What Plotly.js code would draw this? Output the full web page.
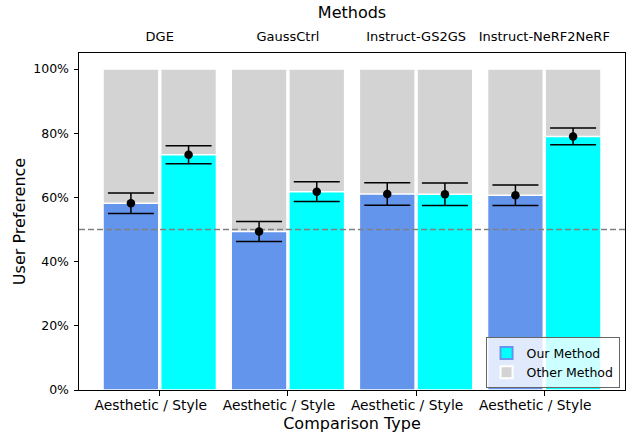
<!DOCTYPE html>
<html>
<head>
<meta charset="utf-8">
<script src="https://cdn.plot.ly/plotly-3.0.1.min.js"></script>
<style>html,body{margin:0;padding:0;background:#fff;}#chart{width:626px;height:434px;}</style>
</head>
<body>
<div id="chart"></div>
<script>
// ---- data ----
const methods = ['DGE', 'GaussCtrl', 'Instruct-GS2GS', 'Instruct-NeRF2NeRF'];
const comparisonLabels = ['Aesthetic / Style', 'Aesthetic / Style', 'Aesthetic / Style', 'Aesthetic / Style'];
const ourAesthetic = [0.582, 0.494, 0.611, 0.607];
const ourStyle = [0.733, 0.618, 0.610, 0.790];
const errAesthetic = [0.032, 0.031, 0.035, 0.032];
const errStyle = [0.028, 0.031, 0.035, 0.026];
const totalShare = [1, 1, 1, 1];
const chanceLevel = 0.5;

// ---- layout constants ----
const OFF = 0.225, BW = 0.435;
const XR = [-0.63, 3.63];
const idx = methods.map((_, i) => i);
const xA = idx.map(i => i - OFF);
const xS = idx.map(i => i + OFF);
const FONT = 'DejaVu Sans, sans-serif';

const edge = {color: '#ffffff', width: 1.5};

const traces = [
  {type: 'bar', x: xA.concat(xS), y: totalShare.concat(totalShare), width: BW,
   marker: {color: '#d3d3d3', line: edge}, name: 'Other Method', legendrank: 2,
   hoverinfo: 'skip'},
  {type: 'bar', x: xA, y: ourAesthetic, width: BW,
   marker: {color: '#6495ed', line: edge}, showlegend: false, hoverinfo: 'skip'},
  {type: 'bar', x: xS, y: ourStyle, width: BW,
   marker: {color: '#00ffff', line: edge}, showlegend: false, hoverinfo: 'skip'},
  {type: 'bar', x: [null], y: [null], name: 'Our Method', legendrank: 1,
   marker: {color: '#00ffff', line: {color: '#6495ed', width: 3}}},
  {type: 'scatter', mode: 'lines', x: XR, y: [chanceLevel, chanceLevel],
   line: {color: '#808080', width: 1.6, dash: '6px,3px'}, showlegend: false, hoverinfo: 'skip'},
  {type: 'scatter', mode: 'markers', x: xA.concat(xS), y: ourAesthetic.concat(ourStyle),
   marker: {color: '#000', size: 8.5},
   error_y: {type: 'data', array: errAesthetic.concat(errStyle), visible: true,
             color: '#000', thickness: 1.5, width: 23},
   showlegend: false, hoverinfo: 'skip'},
  {type: 'scatter', mode: 'markers', x: idx, y: [null, null, null, null], xaxis: 'x2',
   showlegend: false, hoverinfo: 'skip'}
];

const layout = {
  width: 626, height: 434,
  margin: {l: 79, r: 1, t: 53, b: 43.5, pad: 0},
  paper_bgcolor: '#fff', plot_bgcolor: '#fff',
  font: {family: FONT, color: '#000', size: 13},
  barmode: 'overlay',
  bargap: 0,
  showlegend: true,
  xaxis: {
    range: XR, tickvals: idx, ticktext: comparisonLabels,
    showgrid: false, zeroline: false,
    showline: true, linecolor: '#000', linewidth: 1, mirror: true,
    ticks: 'outside', ticklen: 4.5, tickcolor: '#000', tickwidth: 1,
    ticklabelshift: -9, ticklabelstandoff: -2,
    tickfont: {size: 13.8, family: FONT, color: '#000'},
    title: {text: 'Comparison Type', font: {size: 16, family: FONT, color: '#000'}, standoff: 5}
  },
  xaxis2: {
    overlaying: 'x', side: 'top', range: XR, tickvals: idx, ticktext: methods,
    showgrid: false, zeroline: false, showline: false,
    ticks: 'outside', ticklen: 6, tickcolor: 'rgba(0,0,0,0)',
    tickfont: {size: 13, family: FONT, color: '#000'},
    title: {text: 'Methods', font: {size: 16, family: FONT, color: '#000'}, standoff: 6}
  },
  yaxis: {
    range: [0, 1.05], tickvals: [0, 0.2, 0.4, 0.6, 0.8, 1.0], tickformat: '.0%',
    showgrid: false, zeroline: false,
    showline: true, linecolor: '#000', linewidth: 1, mirror: true,
    ticks: 'outside', ticklen: 4.5, tickcolor: '#000', tickwidth: 1,
    ticklabelstandoff: 2,
    tickfont: {size: 12.5, family: FONT, color: '#000'},
    title: {text: 'User Preference', font: {size: 16, family: FONT, color: '#000'}, standoff: 3}
  },
  legend: {
    x: 0.99, xanchor: 'right', y: 0.005, yanchor: 'bottom',
    bgcolor: 'rgba(255,255,255,0.8)', bordercolor: '#666', borderwidth: 1,
    font: {size: 12.5, family: FONT, color: '#000'},
    traceorder: 'normal', itemsizing: 'constant', tracegroupgap: 0
  }
};

Plotly.newPlot('chart', traces, layout, {displayModeBar: false, staticPlot: true});
</script>
</body>
</html>
